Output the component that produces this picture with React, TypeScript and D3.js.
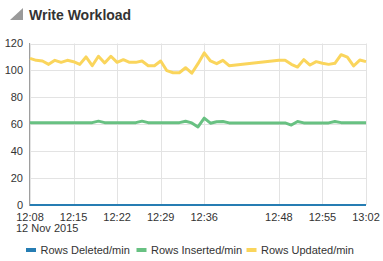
import React from "react";
import * as d3 from "d3";

const minuteOffsets = [0,1,2,3,4,5,6,7,8,9,10,11,12,13,14,15,16,17,18,19,20,21,22,23,24,25,26,27,28,29,30,31,32,40,41,42,43,44,45,46,47,48,49,50,51,52,53,54];
const rowsUpdated = [109,107.5,107,104.5,107.5,106,107.5,106.5,104.5,110,103.5,110.5,105.5,110.5,106,108,106,106,107,103.5,103.5,107,99.8,98.3,98.3,102,97.9,105,113,107,105,107.5,103.5,107.5,107.5,104.5,102.5,108,104,106.5,105.3,104.5,105.3,111.7,109.8,103.3,107.7,106.5];
const rowsInserted = [61.2,61.2,61.2,61.2,61.2,61.2,61.2,61.2,61.2,61.2,61.2,62.3,61.2,61.2,61.2,61.2,61.2,61.2,62.3,61.2,61.2,61.2,61.2,61.2,61.2,62.2,61,58,64.5,60.8,61.9,62,61,61,61,59.4,62,61,61,61,61,61,62,61.2,61.2,61.2,61.2,61.2];
const rowsDeleted = minuteOffsets.map(() => 0);

const xTickLabels = ["12:08","12:15","12:22","12:29","12:36","12:48","12:55","13:02"];
const yTicks = [0,20,40,60,80,100,120];
const dateLabel = "12 Nov 2015";
const title = "Write Workload";
const seriesNames = ["Rows Deleted/min","Rows Inserted/min","Rows Updated/min"];
const seriesColors = ["#267db3","#68c182","#fad55c"];

const base = new Date(2015, 10, 12, 12, 8);
const toDate = (m: number) => new Date(base.getTime() + m * 60000);
const parseHM = (s: string) => { const [h, m] = s.split(":").map(Number); return new Date(2015, 10, 12, h, m); };

export default function App() {
  const W = 383, H = 261;
  const x = d3.scaleTime().domain([parseHM("12:08"), parseHM("13:02")]).range([30, 366]);
  const y = d3.scaleLinear().domain([0, 120]).range([205, 43.5]);
  const font = "'Liberation Sans', Arial, sans-serif";
  const line = d3.line<[number, number]>().x(d => x(toDate(d[0]))).y(d => y(d[1]));
  const series = [rowsDeleted, rowsInserted, rowsUpdated];
  const legendSwatchX = [26, 136.5, 246.5];
  return (
    <svg width={W} height={H} style={{ position: "absolute", left: 0, top: 0 }} fontFamily={font}>
      <rect width={W} height={H} fill="#fff" />
      <path d="M10,20 L23,20 L23,8 Z" fill="#9a9a9a" />
      <text x={29} y={19.5} fontSize={14} fontWeight="bold" fill="#333">{title}</text>
      {yTicks.map(t => (
        <line key={"gy" + t} x1={30} x2={366} y1={Math.round(y(t)) + 0.5} y2={Math.round(y(t)) + 0.5} stroke="#e3e3e3" />
      ))}
      {xTickLabels.map(t => (
        <line key={"gx" + t} x1={Math.round(x(parseHM(t))) + 0.5} x2={Math.round(x(parseHM(t))) + 0.5} y1={43.5} y2={205} stroke="#e3e3e3" />
      ))}
      <line x1={29.5} x2={29.5} y1={43} y2={206} stroke="#9e9e9e" />
      <line x1={29.5} x2={366} y1={205.5} y2={205.5} stroke="#9e9e9e" />
      {yTicks.map(t => (
        <text key={"ty" + t} x={23} y={y(t)} dy="0.35em" textAnchor="end" fontSize={11} fill="#333">{t}</text>
      ))}
      {xTickLabels.map(t => (
        <text key={"tx" + t} x={x(parseHM(t))} y={220.5} textAnchor="middle" fontSize={11} fill="#333">{t}</text>
      ))}
      <text x={16} y={231.5} fontSize={11} fill="#333">{dateLabel}</text>
      {series.map((s, i) => (
        <path key={"s" + i} d={line(minuteOffsets.map((m, j) => [m, s[j]] as [number, number])) || ""}
          fill="none" stroke={seriesColors[i]} strokeWidth={i === 0 ? 2 : 3} strokeLinejoin="round" />
      ))}
      {seriesNames.map((n, i) => (
        <g key={"l" + i}>
          <rect x={legendSwatchX[i]} y={248} width={10} height={4} fill={seriesColors[i]} />
          <text x={legendSwatchX[i] + 14.5} y={254} fontSize={11} fill="#333">{n}</text>
        </g>
      ))}
    </svg>
  );
}
